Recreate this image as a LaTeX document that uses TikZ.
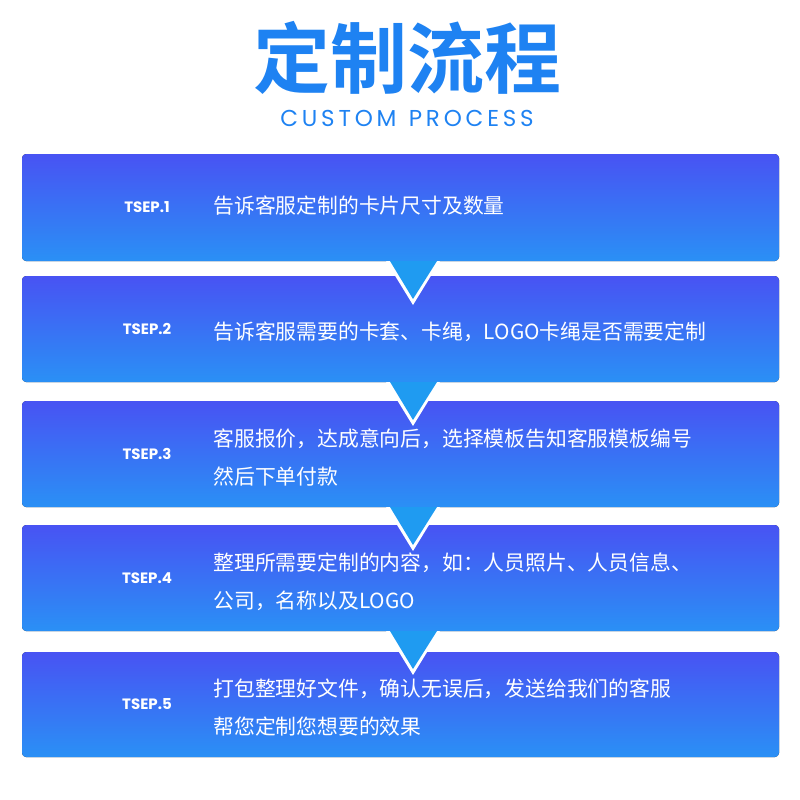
\documentclass[tikz,border=0pt]{standalone}
\usepackage{fontspec}
\setmainfont{Noto Sans CJK SC}
\newfontfamily\cjkb{Noto Sans CJK SC Bold}
\newfontfamily\lat{Poppins}
\usetikzlibrary{calc}
\definecolor{btop}{HTML}{4853F3}
\definecolor{bbot}{HTML}{2A90F5}
\definecolor{tri}{HTML}{1F9BF1}
\definecolor{ttl}{HTML}{1E82F2}
\tikzset{
 stepbox/.style={rounded corners=4pt, top color=btop, bottom color=bbot, draw=none},
 lab/.style={text=white, font=\lat\bfseries\fontsize{15}{18}\selectfont, anchor=center},
 txt/.style={text=white, font=\fontsize{20.8}{38}\selectfont, anchor=west, align=left}
}
\begin{document}
\begin{tikzpicture}[x=1pt,y=-1pt]
\useasboundingbox (0,0) rectangle (800,800);
\node[text=ttl, font=\cjkb\fontsize{77}{88}\selectfont] (title) at (407,58) {定制流程};
\node[text=ttl, font=\lat\fontsize{23}{27}\selectfont] (sub) at (407,118) {C\,U\,S\,T\,O\,M\ \ P\,R\,O\,C\,E\,S\,S};
\foreach \i/\t/\b in {1/154/261,2/276/382,3/401/507,4/525/631,5/652/757}{
  \fill[stepbox] (22,\t) rectangle (779,\b);
  \node[lab] (l\i) at (147,{(\t+\b)/2}) {TSEP.\i};
}
\foreach \b in {261,382,507,631}{
  \fill[white] (386,\b) -- (440,\b) -- (413,\b+44) -- cycle;
  \fill[tri] (390,\b) -- (437,\b) -- (413,\b+38) -- cycle;
}
\node[txt] (t1) at (210,206) {告诉客服定制的卡片尺寸及数量};
\node[txt] (t2) at (210,332) {告诉客服需要的卡套、卡绳，LOGO卡绳是否需要定制};
\node[txt] (t3) at (210,458) {客服报价，达成意向后，选择模板告知客服模板编号\\然后下单付款};
\node[txt] (t4) at (210,582) {整理所需要定制的内容，如：人员照片、人员信息、\\公司，名称以及LOGO};
\node[txt] (t5) at (210,708) {打包整理好文件，确认无误后，发送给我们的客服\\帮您定制您想要的效果};
\end{tikzpicture}
\end{document}
